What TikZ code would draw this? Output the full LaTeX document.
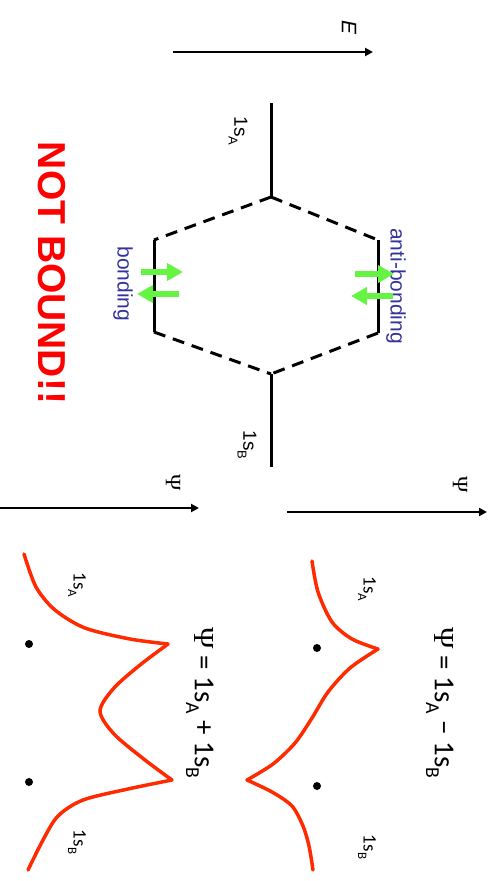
\documentclass[tikz,border=0pt]{standalone}
\usepackage{fontspec}
\setmainfont{Liberation Sans}
\newfontfamily\calfont{Carlito}
\newfontfamily\greekfont{Liberation Serif}
\usepackage{tikz}
\usetikzlibrary{positioning,arrows.meta,calc}
\definecolor{ink}     {HTML}{000000}
\definecolor{hot}     {HTML}{FF2A00}
\definecolor{alarm}   {HTML}{FF0000}
\definecolor{lime}    {HTML}{66F444}
\definecolor{navy}    {HTML}{333399}
\newcommand{\orb}[1]{1s\raisebox{-0.3em}{\scalebox{0.68}{#1}}}
\newcommand{\psisym}{{\greekfont Ψ}}
\tikzset{
  % --- nodes
  vtext/.style   = {rotate=-90, inner sep=1pt, text=ink},
  lvlname/.style = {vtext, font=\fontsize{19}{19}\selectfont},
  curvename/.style = {vtext, font=\calfont\fontsize{19}{19}\selectfont},
  eqn/.style     = {vtext, font=\calfont\fontsize{29}{29}\selectfont},
  band/.style    = {vtext, text=navy, font=\fontsize{21}{21}\selectfont},
  axname/.style  = {vtext, font=\fontsize{22}{22}\selectfont},
  warn/.style    = {vtext, text=alarm, font=\bfseries\fontsize{39}{39}\selectfont},
  nucleus/.style = {circle, fill=ink, inner sep=0pt, minimum size=8pt},
  % --- edges
  axis/.style    = {line width=2.4pt, draw=ink, -{Triangle[length=8pt,width=8pt]}},
  level/.style   = {line width=3pt, draw=ink},
  corr/.style    = {line width=3pt, draw=ink, dash pattern=on 12pt off 8pt},
  spin/.style    = {line width=6pt, draw=lime, -{Triangle[length=16pt,width=17pt]}},
  wave/.style    = {line width=3.5pt, draw=hot, line cap=round},
}
\begin{document}
\begin{tikzpicture}[x=1pt,y=-1pt]
  \useasboundingbox (0,0) rectangle (498,881);
  % energy axis
  \coordinate (E0) at (173,52);
  \coordinate (E1) at (373,52);
  \draw[axis] (E0) -- (E1);
  \node[axname, font=\itshape\fontsize{21}{21}\selectfont] (Elab) at (349,28) {E};
  % MO levels
  \coordinate (Atop)  at (271,103);
  \coordinate (Abot)  at (271,197);
  \coordinate (bntop) at (154,240);
  \coordinate (bnbot) at (154,332);
  \coordinate (abtop) at (378,240);
  \coordinate (abbot) at (378,333);
  \coordinate (Btop)  at (271,374);
  \coordinate (Bbot)  at (271,467);
  \draw[level] (Atop) -- (Abot);
  \draw[level] (bntop) -- (bnbot);
  \draw[level] (abtop) -- (abbot);
  \draw[level] (Btop) -- (Bbot);
  \draw[corr] (Abot) -- (bntop);
  \draw[corr] (Abot) -- (abtop);
  \draw[corr] (bnbot) -- (Btop);
  \draw[corr] (abbot) -- (Btop);
  \node[lvlname] (lA) at (238,131) {\orb{A}};
  \node[lvlname] (lB) at (247,445) {\orb{B}};
  \node[band] (bnlab) at (123,284) {bonding};
  \node[band] (ablab) at (396,286) {anti-bonding};
  % electrons
  \coordinate (bu0) at (141,272); \coordinate (bu1) at (183,272);
  \coordinate (bd0) at (179,294); \coordinate (bd1) at (137,294);
  \coordinate (au0) at (355,274); \coordinate (au1) at (394,274);
  \coordinate (ad0) at (393,296); \coordinate (ad1) at (351,296);
  \draw[spin] (bu0) -- (bu1);
  \draw[spin] (bd0) -- (bd1);
  \draw[spin] (au0) -- (au1);
  \draw[spin] (ad0) -- (ad1);
  \node[warn] (nb) at (52,273) {NOT BOUND!!};
  % wavefunction axes
  \coordinate (P0) at (0,508);
  \coordinate (P1) at (199,508);
  \coordinate (Q0) at (287,512);
  \coordinate (Q1) at (487,512);
  \draw[axis] (P0) -- (P1);
  \draw[axis] (Q0) -- (Q1);
  \node[axname] (psiP) at (173,483) {\psisym};
  \node[axname] (psiQ) at (460,485) {\psisym};
  % bonding combination
  \draw[wave] plot[smooth] coordinates {(24,554) (36,587) (55,610) (85,628) (130,639) (168,644)};
  \draw[wave] plot[smooth] coordinates {(168,644) (140,665) (114,688) (100,711) (114,734) (145,760) (172,780)};
  \draw[wave] plot[smooth] coordinates {(172,780) (128,789) (83,800) (58,816) (43,840) (28,870)};
  \node[nucleus] (nA1) at (29,644) {};
  \node[nucleus] (nB1) at (29,782) {};
  \node[curvename] (cA1) at (77,585) {\orb{A}};
  \node[curvename] (cB1) at (77,842) {\orb{B}};
  \node[eqn] (eqp) at (200,703) {\psisym{} = \orb{A} + \orb{B}};
  % antibonding combination
  \draw[wave] plot[smooth] coordinates {(312,561) (318,592) (332,622) (352,639) (378,649)};
  \draw[wave] plot[smooth] coordinates {(378,649) (350,668) (328,692) (312,718) (295,743) (273,764) (247,780)};
  \draw[wave] plot[smooth] coordinates {(247,780) (272,792) (292,806) (303,826) (309,846) (313,870)};
  \node[nucleus] (nA2) at (317,648) {};
  \node[nucleus] (nB2) at (317,786) {};
  \node[curvename] (cA2) at (367,589) {\orb{A}};
  \node[curvename] (cB2) at (367,847) {\orb{B}};
  \node[eqn] (eqm) at (440,703) {\psisym{} = \orb{A} − \orb{B}};
\end{tikzpicture}
\end{document}
